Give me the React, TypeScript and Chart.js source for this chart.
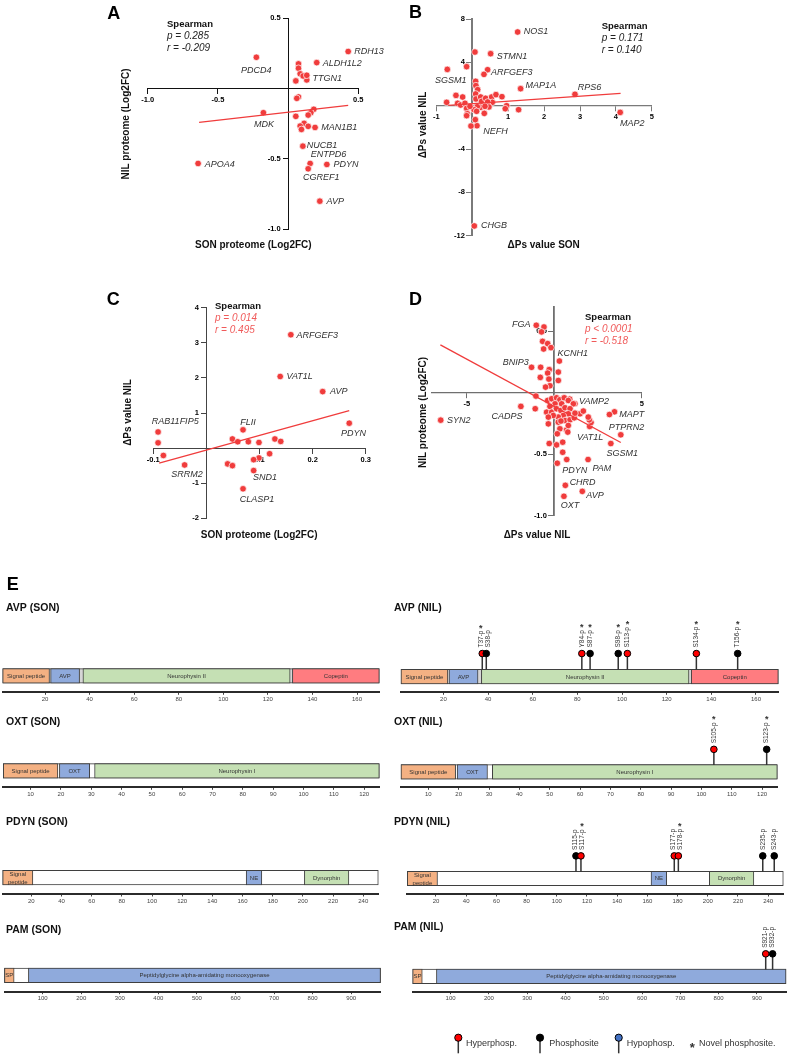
import React, { useEffect, useRef } from 'react';
import { Chart, registerables } from 'chart.js';

Chart.register(...registerables);

const FONT = '"Liberation Sans", Arial, Helvetica, sans-serif';
Chart.defaults.font.family = FONT;

const DOT_RED = '#f03c3c';
const STAT_RED = '#f05a5a';
const INK = '#111111';
const GENE_INK = '#303030';

// ---------------- Panel A : SON proteome vs NIL proteome ----------------
const A_GENES = ['RDH13', 'ALDH1L2', 'PDCD4', 'TTGN1', 'MDK', 'MAN1B1', 'NUCB1', 'ENTPD6', 'PDYN', 'CGREF1', 'APOA4', 'AVP'];
const A_GENE_SON = [0.428, 0.204, -0.226, 0.133, -0.176, 0.192, 0.105, 0.157, 0.276, 0.143, -0.641, 0.226];
const A_GENE_NIL = [0.264, 0.185, 0.223, 0.062, -0.171, -0.276, -0.409, -0.532, -0.539, -0.57, -0.532, -0.8];
const A_OTHER_SON = [0.074, 0.074, 0.086, 0.107, 0.133, 0.055, 0.074, 0.062, 0.183, 0.162, 0.143, 0.055, 0.114, 0.086, 0.143, 0.095];
const A_OTHER_NIL = [0.176, 0.145, 0.105, 0.09, 0.095, 0.055, -0.059, -0.069, -0.147, -0.171, -0.188, -0.197, -0.247, -0.266, -0.268, -0.29];
const A_FIT_X = [-0.634, 0.428];
const A_FIT_Y = [-0.24, -0.119];
const A_X_TICKS = [-1.0, -0.5, 0.5];
const A_Y_TICKS = [-1.0, -0.5, 0.5];
const A_STATS = ['Spearman', 'p = 0.285', 'r = -0.209'];

// ---------------- Panel B : ΔPs SON vs ΔPs NIL ----------------
const B_GENES = ['NOS1', 'STMN1', 'SGSM1', 'ARFGEF3', 'MAP1A', 'RPS6', 'MAP2', 'NEFH', 'CHGB'];
const B_GENE_SON = [1.263, 0.511, -0.696, 0.427, 1.346, 2.86, 4.12, 0.13, 0.056];
const B_GENE_NIL = [6.8, 4.8, 3.35, 3.32, 1.57, 1.05, -0.62, -1.85, -11.1];
const B_OTHER_SON = [0.074, -0.158, 0.325, 0.093, 0.1, 0.149, -0.037, -0.455, -0.269, -0.715, -0.409, -0.325, -0.204, -0.158, -0.139, -0.158, 0.093, 0.102, 0.232, 0.26, 0.371, 0.539, 0.659, 0.826, 0.557, 0.427, 0.464, 0.232, 0.139, 0.334, 0.084, 0.956, 0.919, 1.29, 0.046, -0.065, 0.353, 0.12];
const B_OTHER_NIL = [4.95, 3.6, 2.89, 2.25, 1.85, 1.48, -1.88, 0.95, 0.8, 0.31, 0.22, 0.06, 0.22, -0.25, -0.74, -0.92, 1.08, 0.62, 0.8, 0.4, 0.68, 0.8, 1.02, 0.83, 0.31, 0.34, -0.12, -0.15, -0.09, -0.71, -1.29, 0, -0.28, -0.37, -0.37, -0.06, -0.06, -0.52];
const B_FIT_X = [-0.669, 4.13];
const B_FIT_Y = [0.03, 1.14];
const B_X_TICKS = [-1, 1, 2, 3, 4, 5];
const B_Y_TICKS = [-12, -8, -4, 4, 8];
const B_STATS = ['Spearman', 'p = 0.171', 'r = 0.140'];

// ---------------- Panel C : SON proteome vs ΔPs NIL ----------------
const C_GENES = ['ARFGEF3', 'VAT1L', 'AVP', 'PDYN', 'RAB11FIP5', 'FLII', 'SRRM2', 'SND1', 'CLASP1'];
const C_GENE_SON = [0.159, 0.139, 0.219, 0.269, -0.091, 0.069, -0.041, 0.089, 0.069];
const C_GENE_NIL = [3.23, 2.04, 1.61, 0.71, 0.46, 0.52, -0.48, -0.64, -1.16];
const C_OTHER_SON = [-0.091, -0.081, 0.049, 0.059, 0.079, 0.099, 0.129, 0.14, 0.119, 0.099, 0.089, 0.04, 0.049];
const C_OTHER_NIL = [0.15, -0.21, 0.26, 0.18, 0.18, 0.16, 0.26, 0.19, -0.16, -0.28, -0.33, -0.45, -0.5];
const C_FIT_X = [-0.089, 0.269];
const C_FIT_Y = [-0.43, 1.07];
const C_X_TICKS = [-0.1, 0.1, 0.2, 0.3];
const C_Y_TICKS = [-2, -1, 1, 2, 3, 4];
const C_STATS = ['Spearman', 'p = 0.014', 'r = 0.495'];

// ---------------- Panel D : ΔPs NIL vs NIL proteome ----------------
const D_GENES = ['FGA', 'KCNH1', 'BNIP3', 'SYN2', 'CADPS', 'VAMP2', 'MAPT', 'PTPRN2', 'VAT1L', 'SGSM1', 'PDYN', 'PAM', 'CHRD', 'AVP', 'OXT'];
const D_GENE_PS = [-1.03, 0.29, -1.3, -6.49, -1.91, 1.18, 3.44, 3.8, 2.02, 3.23, 0.17, 1.93, 0.63, 1.6, 0.55];
const D_GENE_NIL = [0.549, 0.258, 0.207, -0.223, -0.111, -0.09, -0.155, -0.342, -0.274, -0.413, -0.573, -0.543, -0.753, -0.802, -0.842];
const D_OTHER_PS = [-0.59, -0.73, -0.67, -0.38, -0.19, -0.61, -0.78, -0.29, -0.38, -0.8, -0.31, 0.23, 0.23, -0.25, -0.5, -1.05, -1.09, 3.15, 2.1, 2.0, 0.88, 0.53, -0.38, -0.15, 0.13, 0.32, 0.57, 0.8, 1.09, 0.42, 0.04, -0.25, -0.44, -0.15, 0.13, 0.38, 0.61, 0.9, 1.47, 1.66, 0.8, 0.51, 0.23, -0.06, -0.34, 0.61, 0.9, 1.14, 1.94, 0.23, -0.34, 0.32, 0.7, 0.8, 0.38, 0.77, 0.17, -0.29, 0.13, 0.48, 0.48, 0.71, 1.18];
const D_OTHER_NIL = [0.535, 0.495, 0.418, 0.4, 0.367, 0.356, 0.207, 0.188, 0.16, 0.125, 0.111, 0.168, 0.1, 0.057, 0.046, -0.027, -0.13, -0.177, -0.242, -0.22, -0.052, -0.043, -0.0625, -0.049, -0.041, -0.057, -0.041, -0.0625, -0.09, -0.09, -0.09, -0.111, -0.158, -0.158, -0.13, -0.144, -0.122, -0.13, -0.171, -0.149, -0.171, -0.185, -0.198, -0.185, -0.198, -0.226, -0.22, -0.204, -0.198, -0.239, -0.253, -0.293, -0.302, -0.266, -0.23, -0.32, -0.334, -0.413, -0.424, -0.402, -0.484, -0.543, -0.166];
const D_FIT_X = [-6.51, 3.8];
const D_FIT_Y = [0.389, -0.405];
const D_X_TICKS = [-5, 5];
const D_Y_TICKS = [-1.0, -0.5, 0.5];
const D_STATS = ['Spearman', 'p < 0.0001', 'r = -0.518'];

// ---------------- Panel E : protein domain maps ----------------
const AVP_LENGTH = 170;
const AVP_TICKS = [20, 40, 60, 80, 100, 120, 140, 160];
const AVP_DOMAINS = ['Signal peptide', 'AVP', 'Neurophysin II', 'Copeptin'];
const AVP_DOMAIN_START = [1, 22.5, 37, 131];
const AVP_DOMAIN_END = [22, 35.5, 130, 170];
const AVP_DOMAIN_KIND = ['signal', 'peptide', 'carrier', 'copeptin'];
const AVP_SITES = ['T37-p', 'S38-p', 'Y84-p', 'S87-p', 'S98-p', 'S113-p', 'S134-p', 'T156-p'];
const AVP_SITE_POS = [37.4, 39.2, 82.0, 85.7, 98.3, 102.4, 133.3, 151.8];
const AVP_SITE_KIND = ['hyper', 'phospho', 'hyper', 'phospho', 'phospho', 'hyper', 'hyper', 'phospho'];
const AVP_SITE_NOVEL = [true, false, true, true, true, true, true, true];

const OXT_LENGTH = 125;
const OXT_TICKS = [10, 20, 30, 40, 50, 60, 70, 80, 90, 100, 110, 120];
const OXT_DOMAINS = ['Signal peptide', 'OXT', 'Neurophysin I'];
const OXT_DOMAIN_START = [1, 19.5, 31.1];
const OXT_DOMAIN_END = [19, 29.5, 125];
const OXT_DOMAIN_KIND = ['signal', 'peptide', 'carrier'];
const OXT_SITES = ['S105-p', 'S123-p'];
const OXT_SITE_POS = [104.1, 121.5];
const OXT_SITE_KIND = ['hyper', 'phospho'];
const OXT_SITE_NOVEL = [true, true];

const PDYN_LENGTH = 250;
const PDYN_TICKS = [20, 40, 60, 80, 100, 120, 140, 160, 180, 200, 220, 240];
const PDYN_DOMAINS = ['Signal\npeptide', 'NE', 'Dynorphin'];
const PDYN_DOMAIN_START = [1, 162.4, 201];
const PDYN_DOMAIN_END = [21, 172.8, 230.5];
const PDYN_DOMAIN_KIND = ['signal', 'peptide', 'carrier'];
const PDYN_SITES = ['S115-p', 'S117-p', 'S177-p', 'S178-p', 'S235-p', 'S243-p'];
const PDYN_SITE_POS = [112.7, 116.0, 177.8, 180.5, 236.4, 244.0];
const PDYN_SITE_KIND = ['phospho', 'hyper', 'hyper', 'hyper', 'phospho', 'phospho'];
const PDYN_SITE_NOVEL = [false, true, false, true, false, false];

const PAM_LENGTH = 976;
const PAM_TICKS = [100, 200, 300, 400, 500, 600, 700, 800, 900];
const PAM_DOMAINS = ['SP', 'Peptidylglycine alpha-amidating monooxygenase'];
const PAM_DOMAIN_START = [1, 63];
const PAM_DOMAIN_END = [26, 976];
const PAM_DOMAIN_KIND = ['signal', 'peptide'];
const PAM_SITES = ['S921-p', 'S932-p'];
const PAM_SITE_POS = [923, 941];
const PAM_SITE_KIND = ['hyper', 'phospho'];
const PAM_SITE_NOVEL = [false, false];

const LEGEND_LABELS = ['Hyperphosp.', 'Phosphosite', 'Hypophosp.', 'Novel phosphosite.'];
const LEGEND_KINDS = ['hyper', 'phospho', 'hypo', 'novel'];

// ---------------- styles ----------------
const DOMAIN_COLORS: Record<string, string> = {
  signal: '#f4b183',
  peptide: '#8faadc',
  carrier: '#c5e0b4',
  copeptin: '#ff7c80',
};
const SITE_COLORS: Record<string, string> = { hyper: '#ff0000', phospho: '#000000', hypo: '#4472c4' };
const BAR_Y = 16.4;
const BAR_THICK = 14.5;
const HEAD_Y = 40.4;
const E_AXIS_BOX = 14;
const Y_LABEL_GAP = '\u2002\u2002';

type Align = 'left' | 'center' | 'right';

function drawText(ctx: any, s: string, x: number, y: number, font: string, color: string, align: Align = 'left', baseline: string = 'middle') {
  ctx.font = font;
  ctx.fillStyle = color;
  ctx.textAlign = align;
  ctx.textBaseline = baseline;
  ctx.fillText(s, x, y);
}

// ---------------- scatter panels ----------------
const SCATTERS: any[] = [
  {
    left: 0, top: 0, width: 395, height: 270,
    pad: { left: 147.7, right: 36.7, top: 18.3, bottom: 40.7 },
    xMin: -1.0, xMax: 0.5, yMin: -1.0, yMax: 0.5, xTicks: A_X_TICKS, yTicks: A_Y_TICKS, xDec: 1, yDec: 1,
    axisColor: '#111', xAxisW: 1, yAxisW: 1,
    names: A_GENES, lx: A_GENE_SON, ly: A_GENE_NIL, ox: A_OTHER_SON, oy: A_OTHER_NIL, fitX: A_FIT_X, fitY: A_FIT_Y,
    labelStyle: {
      RDH13: [6, 0, 'left'], ALDH1L2: [6, 0.7, 'left'], PDCD4: [0, 13.3, 'center'], TTGN1: [5.7, -1.7, 'left'],
      MDK: [0.7, 11.7, 'center'], MAN1B1: [6.3, 0, 'left'], NUCB1: [4, -1, 'left'], ENTPD6: [0.7, -9, 'left'],
      PDYN: [6.7, 0, 'left'], CGREF1: [-5.3, 9, 'left'], APOA4: [6.7, 0.7, 'left'], AVP: [6.7, 0.7, 'left'],
    },
    stats: A_STATS, statRed: false, statPos: [167, 24.3],
    letter: 'A', letterPos: [107.3, 13.7],
    xTitle: 'SON proteome (Log2FC)', xTitlePos: [253.3, 245.7],
    yTitle: 'NIL proteome (Log2FC)', yTitlePos: [126.7, 124],
  },
  {
    left: 395, top: 0, width: 396, height: 270,
    pad: { left: 41.4, right: 139.2, top: 19, bottom: 34.3 },
    xMin: -1, xMax: 5, yMin: -12, yMax: 8, xTicks: B_X_TICKS, yTicks: B_Y_TICKS, xDec: 0, yDec: 0,
    axisColor: '#7a7a7a', xAxisW: 1.3, yAxisW: 2,
    names: B_GENES, lx: B_GENE_SON, ly: B_GENE_NIL, ox: B_OTHER_SON, oy: B_OTHER_NIL, fitX: B_FIT_X, fitY: B_FIT_Y,
    labelStyle: {
      NOS1: [6, -0.7, 'left'], STMN1: [6, 2.7, 'left'], SGSM1: [-12.3, 11, 'left'], ARFGEF3: [3.3, 2.7, 'left'],
      MAP1A: [5, -3, 'left'], RPS6: [2.7, -7.3, 'left'], MAP2: [-0.3, 10.7, 'left'], NEFH: [6.3, 5.7, 'left'],
      CHGB: [6.7, 0, 'left'],
    },
    stats: B_STATS, statRed: false, statPos: [206.7, 26.7],
    letter: 'B', letterPos: [14, 12.8],
    xTitle: 'ΔPs value SON', xTitlePos: [148.7, 245],
    yTitle: 'ΔPs value NIL', yTitlePos: [28.3, 125],
  },
  {
    left: 0, top: 270, width: 395, height: 290,
    pad: { left: 153.3, right: 29.3, top: 37.7, bottom: 41.7 },
    xMin: -0.1, xMax: 0.3, yMin: -2, yMax: 4, xTicks: C_X_TICKS, yTicks: C_Y_TICKS, xDec: 1, yDec: 0,
    axisColor: '#444', xAxisW: 1, yAxisW: 1,
    names: C_GENES, lx: C_GENE_SON, ly: C_GENE_NIL, ox: C_OTHER_SON, oy: C_OTHER_NIL, fitX: C_FIT_X, fitY: C_FIT_Y,
    labelStyle: {
      ARFGEF3: [5.7, 0.7, 'left'], VAT1L: [6.3, 0, 'left'], AVP: [7.3, 0.3, 'left'], PDYN: [-8.3, 10.3, 'left'],
      RAB11FIP5: [-6.3, -10, 'left'], FLII: [-2.7, -7.7, 'left'], SRRM2: [-13.3, 9.3, 'left'], SND1: [-0.7, 6.7, 'left'],
      CLASP1: [-3.3, 10.3, 'left'],
    },
    stats: C_STATS, statRed: true, statPos: [215, 36],
    letter: 'C', letterPos: [106.7, 30.3],
    xTitle: 'SON proteome (Log2FC)', xTitlePos: [259.2, 265],
    yTitle: 'ΔPs value NIL', yTitlePos: [128.3, 142.5],
  },
  {
    left: 395, top: 270, width: 396, height: 290,
    pad: { left: 36.8, right: 149.2, top: 36.7, bottom: 44.3 },
    xMin: -7, xMax: 5, yMin: -1.0, yMax: 0.7, xTicks: D_X_TICKS, yTicks: D_Y_TICKS, xDec: 0, yDec: 1,
    axisColor: '#6f6f6f', xAxisW: 1.2, yAxisW: 1.8,
    names: D_GENES, lx: D_GENE_PS, ly: D_GENE_NIL, ox: D_OTHER_PS, oy: D_OTHER_NIL, fitX: D_FIT_X, fitY: D_FIT_Y,
    labelStyle: {
      FGA: [-5.7, -0.7, 'right'], KCNH1: [-2, -7.3, 'left'], BNIP3: [-2.7, -4.7, 'right'], SYN2: [6.3, 0.3, 'left'],
      CADPS: [1.7, 9.7, 'right'], VAMP2: [4, -2.7, 'left'], MAPT: [4.7, 3, 'left'], PTPRN2: [-12, -7.3, 'left'],
      VAT1L: [-12.7, 10.8, 'left'], SGSM1: [-4.3, 9.7, 'left'], PDYN: [5, 7.3, 'left'], PAM: [4.3, 9, 'left'],
      CHRD: [4.3, -2.7, 'left'], AVP: [4, 4.3, 'left'], OXT: [-3.3, 9, 'left'],
    },
    stats: D_STATS, statRed: true, statPos: [190, 47.3],
    letter: 'D', letterPos: [14, 30.3],
    xTitle: 'ΔPs value NIL', xTitlePos: [142, 265],
    yTitle: 'NIL proteome (Log2FC)', yTitlePos: [28.3, 142.5],
  },
];

function linearAxis(min: number, max: number, ticks: number[], position: any, color: string, width: number, dec: number, isX: boolean) {
  return {
    type: 'linear',
    min,
    max,
    position,
    offset: false,
    afterFit: (s: any) => {
      if (isX) s.height = 0;
      else s.width = 0;
    },
    afterBuildTicks: (s: any) => {
      s.ticks = ticks.map((v) => ({ value: v }));
    },
    grid: { drawOnChartArea: false, drawTicks: true, tickLength: 5, color, lineWidth: 1 },
    border: { display: true, color, width },
    ticks: {
      color: '#000',
      font: { family: FONT, size: 7.5, weight: 'bold' },
      padding: 2,
      maxRotation: 0,
      autoSkip: false,
      callback: (v: any) => (isX ? Number(v).toFixed(dec) : Number(v).toFixed(dec) + Y_LABEL_GAP),
    },
  };
}

function scatterConfig(s: any) {
  const labelled = s.names.map((_: string, i: number) => ({ x: s.lx[i], y: s.ly[i] }));
  const others = s.ox.map((x: number, i: number) => ({ x, y: s.oy[i] }));
  const annot = {
    id: 'scatterText',
    afterDraw(chart: any) {
      const ctx = chart.ctx;
      ctx.save();
      const pts = chart.getDatasetMeta(1).data;
      s.names.forEach((name: string, i: number) => {
        const st = s.labelStyle[name];
        const el = pts[i];
        drawText(ctx, name, el.x + st[0], el.y + st[1], `italic 9px ${FONT}`, GENE_INK, st[2]);
      });
      const [sx, sy] = s.statPos;
      drawText(ctx, s.stats[0], sx, sy, `bold 9.5px ${FONT}`, INK);
      const sc = s.statRed ? STAT_RED : '#222';
      drawText(ctx, s.stats[1], sx, sy + 12, `italic 10px ${FONT}`, sc);
      drawText(ctx, s.stats[2], sx, sy + 24, `italic 10px ${FONT}`, sc);
      drawText(ctx, s.xTitle, s.xTitlePos[0], s.xTitlePos[1], `bold 10px ${FONT}`, INK, 'center');
      ctx.save();
      ctx.translate(s.yTitlePos[0], s.yTitlePos[1]);
      ctx.rotate(-Math.PI / 2);
      drawText(ctx, s.yTitle, 0, 0, `bold 10px ${FONT}`, INK, 'center');
      ctx.restore();
      drawText(ctx, s.letter, s.letterPos[0], s.letterPos[1], `bold 18px ${FONT}`, '#000', 'left');
      ctx.restore();
    },
  };
  return {
    type: 'scatter',
    data: {
      datasets: [
        {
          type: 'line',
          data: s.fitX.map((x: number, i: number) => ({ x, y: s.fitY[i] })),
          borderColor: DOT_RED,
          borderWidth: 1.3,
          pointRadius: 0,
          fill: false,
          clip: false,
          order: 0,
        },
        {
          data: [...labelled, ...others],
          backgroundColor: DOT_RED,
          borderColor: '#ffffff',
          borderWidth: 0.7,
          pointRadius: 3.3,
          clip: false,
          order: 1,
        },
      ],
    },
    options: {
      responsive: false,
      animation: false,
      events: [],
      layout: { padding: s.pad },
      plugins: { legend: { display: false }, tooltip: { enabled: false } },
      scales: {
        x: linearAxis(s.xMin, s.xMax, s.xTicks, { y: 0 }, s.axisColor, s.xAxisW, s.xDec, true),
        y: linearAxis(s.yMin, s.yMax, s.yTicks, { x: 0 }, s.axisColor, s.yAxisW, s.yDec, false),
      },
    },
    plugins: [annot],
  };
}

// ---------------- domain maps ----------------
function drawLegend(ctx: any) {
  const markerX = [68.3, 150, 228.7, 302.3];
  const textX = [76, 159.3, 236.7, 309];
  LEGEND_LABELS.forEach((label, i) => {
    const kind = LEGEND_KINDS[i];
    if (kind === 'novel') {
      drawText(ctx, '*', markerX[i], 139.5, `bold 13px ${FONT}`, '#333', 'center', 'alphabetic');
    } else {
      ctx.strokeStyle = '#333';
      ctx.lineWidth = 1.5;
      ctx.beginPath();
      ctx.moveTo(markerX[i], 125.7);
      ctx.lineTo(markerX[i], 141.3);
      ctx.stroke();
      ctx.beginPath();
      ctx.arc(markerX[i], 125.7, 3.6, 0, Math.PI * 2);
      ctx.fillStyle = SITE_COLORS[kind];
      ctx.fill();
      ctx.lineWidth = 1;
      ctx.strokeStyle = '#000';
      ctx.stroke();
    }
    drawText(ctx, label, textX[i], 131.3, `9px ${FONT}`, '#333', 'left');
  });
}

function makeDiagram(title: string, geo: any, length: number, ticks: number[], names: string[], starts: number[], ends: number[], kinds: string[], sites: any, backbone: string, extra?: (ctx: any) => void) {
  return { title, ...geo, length, ticks, names, starts, ends, kinds, sites, backbone, extra };
}

const L_COL = { left: 0, width: 392, headX: 6 };
const R_COL = { left: 390, width: 401, headX: 394 };

const DIAGRAMS: any[] = [
  makeDiagram('AVP (SON)', { ...L_COL, top: 570, height: 142, axisY: 692.3, headY: 608.3, barLeft: 2.7, barRight: 379.3 },
    AVP_LENGTH, AVP_TICKS, AVP_DOMAINS, AVP_DOMAIN_START, AVP_DOMAIN_END, AVP_DOMAIN_KIND, null, '#d6d6d6',
    (ctx) => drawText(ctx, 'E', 6.7, 15, `bold 18px ${FONT}`, '#000', 'left')),
  makeDiagram('AVP (NIL)', { ...R_COL, top: 570, height: 142, axisY: 692.3, headY: 608.3, barLeft: 401, barRight: 778.3 },
    AVP_LENGTH, AVP_TICKS, AVP_DOMAINS, AVP_DOMAIN_START, AVP_DOMAIN_END, AVP_DOMAIN_KIND,
    { labels: AVP_SITES, pos: AVP_SITE_POS, kinds: AVP_SITE_KIND, novel: AVP_SITE_NOVEL }, '#d6d6d6'),
  makeDiagram('OXT (SON)', { ...L_COL, top: 705, height: 101, axisY: 787.3, headY: 722, barLeft: 3.3, barRight: 379.3 },
    OXT_LENGTH, OXT_TICKS, OXT_DOMAINS, OXT_DOMAIN_START, OXT_DOMAIN_END, OXT_DOMAIN_KIND, null, '#ffffff'),
  makeDiagram('OXT (NIL)', { ...R_COL, top: 705, height: 101, axisY: 787.3, headY: 722, barLeft: 401, barRight: 777.3 },
    OXT_LENGTH, OXT_TICKS, OXT_DOMAINS, OXT_DOMAIN_START, OXT_DOMAIN_END, OXT_DOMAIN_KIND,
    { labels: OXT_SITES, pos: OXT_SITE_POS, kinds: OXT_SITE_KIND, novel: OXT_SITE_NOVEL }, '#ffffff'),
  makeDiagram('PDYN (SON)', { ...L_COL, top: 806, height: 106, axisY: 894, headY: 821.7, barLeft: 2.7, barRight: 378.3 },
    PDYN_LENGTH, PDYN_TICKS, PDYN_DOMAINS, PDYN_DOMAIN_START, PDYN_DOMAIN_END, PDYN_DOMAIN_KIND, null, '#ffffff'),
  makeDiagram('PDYN (NIL)', { ...R_COL, top: 806, height: 106, axisY: 894, headY: 821.7, barLeft: 407.3, barRight: 783.3 },
    PDYN_LENGTH, PDYN_TICKS, PDYN_DOMAINS, PDYN_DOMAIN_START, PDYN_DOMAIN_END, PDYN_DOMAIN_KIND,
    { labels: PDYN_SITES, pos: PDYN_SITE_POS, kinds: PDYN_SITE_KIND, novel: PDYN_SITE_NOVEL }, '#ffffff'),
  makeDiagram('PAM (SON)', { ...L_COL, top: 912, height: 98, axisY: 991.7, headY: 930, barLeft: 4.5, barRight: 380.5 },
    PAM_LENGTH, PAM_TICKS, PAM_DOMAINS, PAM_DOMAIN_START, PAM_DOMAIN_END, PAM_DOMAIN_KIND, null, '#ffffff'),
  makeDiagram('PAM (NIL)', { ...R_COL, top: 912, height: 145, axisY: 991.7, headY: 926.7, barLeft: 412.7, barRight: 787.7 },
    PAM_LENGTH, PAM_TICKS, PAM_DOMAINS, PAM_DOMAIN_START, PAM_DOMAIN_END, PAM_DOMAIN_KIND,
    { labels: PAM_SITES, pos: PAM_SITE_POS, kinds: PAM_SITE_KIND, novel: PAM_SITE_NOVEL }, '#ffffff', drawLegend),
];

function diagramPlugin(d: any) {
  return {
    id: 'diagramText',
    afterDraw(chart: any) {
      const ctx = chart.ctx;
      ctx.save();
      drawText(ctx, d.title, d.headX - d.left, d.headY - d.top, `bold 10.5px ${FONT}`, '#111', 'left');
      const bars = chart.getDatasetMeta(0).data;
      d.names.forEach((name: string, i: number) => {
        const el: any = bars[i + 1];
        const cx = (el.x + el.base) / 2;
        const lines = name.split('\n');
        if (lines.length === 1) {
          drawText(ctx, name, cx, el.y + 0.3, `6px ${FONT}`, '#333', 'center');
        } else {
          drawText(ctx, lines[0], cx, el.y - 3.2, `6px ${FONT}`, '#333', 'center');
          drawText(ctx, lines[1], cx, el.y + 4.5, `6px ${FONT}`, '#333', 'center');
        }
      });
      if (d.sites) {
        const heads = chart.getDatasetMeta(2).data;
        const xs = heads.map((h: any) => h.x);
        const lx = xs.slice();
        for (let i = 1; i < lx.length; i++) {
          const gap = xs[i] - xs[i - 1];
          if (gap < 7) {
            lx[i - 1] -= (7 - gap) / 2;
            lx[i] += (7 - gap) / 2;
          }
        }
        heads.forEach((h: any, i: number) => {
          const label = d.sites.labels[i];
          const y0 = h.y - 6;
          ctx.save();
          ctx.translate(lx[i], y0);
          ctx.rotate(-Math.PI / 2);
          drawText(ctx, label, 0, 0, `6.5px ${FONT}`, '#333', 'left');
          const w = ctx.measureText(label).width;
          ctx.restore();
          if (d.sites.novel[i]) {
            drawText(ctx, '*', lx[i], y0 - w - 5 + 5, `bold 9px ${FONT}`, '#333', 'center', 'alphabetic');
          }
        });
      }
      if (d.extra) d.extra(ctx);
      ctx.restore();
    },
  };
}

function diagramConfig(d: any) {
  const yMax = d.axisY - d.top;
  const bars = [{ x: [1, d.length], y: BAR_Y }].concat(
    d.starts.map((s: number, i: number) => ({ x: [s, d.ends[i]], y: BAR_Y }))
  );
  const colors = [d.backbone].concat(d.kinds.map((k: string) => DOMAIN_COLORS[k]));
  const datasets: any[] = [
    {
      type: 'bar',
      indexAxis: 'y',
      data: bars,
      backgroundColor: colors,
      borderColor: '#3f3f3f',
      borderWidth: 1,
      borderSkipped: false,
      barThickness: BAR_THICK,
      clip: false,
      order: 3,
    },
  ];
  if (d.sites) {
    const stems: any[] = [];
    d.sites.pos.forEach((p: number) => {
      stems.push({ x: p, y: BAR_Y + BAR_THICK / 2 }, { x: p, y: HEAD_Y }, { x: p, y: null });
    });
    datasets.push({
      type: 'line',
      data: stems,
      borderColor: '#333',
      borderWidth: 1.5,
      pointRadius: 0,
      spanGaps: false,
      fill: false,
      clip: false,
      order: 2,
    });
    datasets.push({
      type: 'scatter',
      data: d.sites.pos.map((p: number) => ({ x: p, y: HEAD_Y })),
      backgroundColor: d.sites.kinds.map((k: string) => SITE_COLORS[k]),
      borderColor: '#000',
      borderWidth: 1,
      pointRadius: 3.3,
      clip: false,
      order: 1,
    });
  }
  return {
    type: 'scatter',
    data: { datasets },
    options: {
      responsive: false,
      animation: false,
      events: [],
      layout: {
        padding: {
          left: d.barLeft - d.left,
          right: d.left + d.width - d.barRight,
          top: 0,
          bottom: d.top + d.height - d.axisY - E_AXIS_BOX,
        },
      },
      plugins: { legend: { display: false }, tooltip: { enabled: false } },
      scales: {
        x: {
          type: 'linear',
          min: 1,
          max: d.length,
          position: 'bottom',
          offset: false,
          afterFit: (s: any) => {
            s.height = E_AXIS_BOX;
          },
          afterBuildTicks: (s: any) => {
            s.ticks = d.ticks.map((v: number) => ({ value: v }));
          },
          grid: { drawOnChartArea: false, drawTicks: true, tickLength: 2.5, color: '#444', offset: false },
          border: { display: true, color: '#2b2b2b', width: 2 },
          ticks: {
            font: { family: FONT, size: 6 },
            color: '#444',
            padding: 1,
            maxRotation: 0,
            autoSkip: false,
            callback: (v: any) => String(v),
          },
        },
        y: {
          type: 'linear',
          min: 0,
          max: yMax,
          display: false,
          offset: false,
          afterFit: (s: any) => {
            s.width = 0;
          },
        },
      },
    },
    plugins: [diagramPlugin(d)],
  };
}

function ChartCanvas({ left, top, width, height, make }: any) {
  const ref = useRef<HTMLCanvasElement | null>(null);
  useEffect(() => {
    if (!ref.current) return;
    const chart = new Chart(ref.current, make());
    return () => chart.destroy();
  }, []);
  return (
    <canvas
      ref={ref}
      width={width}
      height={height}
      style={{ position: 'absolute', left, top, width, height, display: 'block' }}
    />
  );
}

export default function App() {
  return (
    <div style={{ position: 'absolute', left: 0, top: 0, width: 791, height: 1057, background: '#ffffff', overflow: 'hidden' }}>
      {SCATTERS.map((s, i) => (
        <ChartCanvas key={'sc' + i} left={s.left} top={s.top} width={s.width} height={s.height} make={() => scatterConfig(s)} />
      ))}
      {DIAGRAMS.map((d, i) => (
        <ChartCanvas key={'dm' + i} left={d.left} top={d.top} width={d.width} height={d.height} make={() => diagramConfig(d)} />
      ))}
    </div>
  );
}
